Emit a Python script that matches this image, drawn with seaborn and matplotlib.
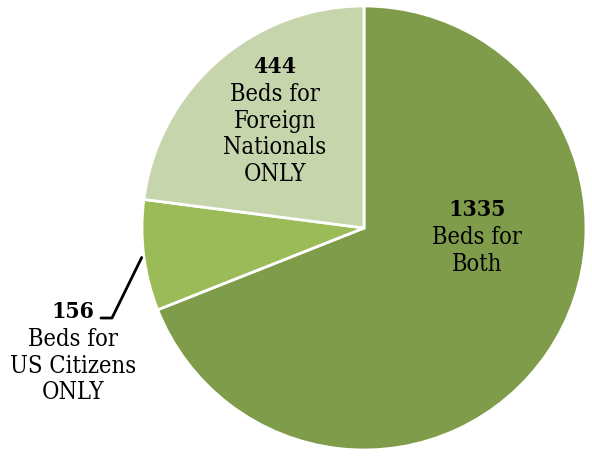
import numpy as np
import seaborn as sns
import matplotlib.pyplot as plt

# data
counts = [1335, 156, 444]
descriptions = ['Beds for\nBoth', 'Beds for\nUS Citizens\nONLY', 'Beds for\nForeign\nNationals\nONLY']
colors = ['#7F9C4A', '#9BBB59', '#C6D5AC']

sns.set_style('white')
plt.rcParams['font.family'] = ['DejaVu Serif']
plt.rcParams['font.stretch'] = 'condensed'

fig = plt.figure(figsize=(5.92, 4.57), dpi=100)
ax = fig.add_axes([0, 0, 1, 1])

cx, cy, r = 364, 229, 222
wedges, _ = ax.pie(counts, colors=colors, startangle=90, counterclock=False,
                   center=(cx, cy), radius=r, frame=True,
                   wedgeprops=dict(edgecolor='white', linewidth=2))
ax.set_xlim(0, 592)
ax.set_ylim(0, 457)
ax.set_aspect('equal')
ax.axis('off')

# label positions (centre of the bold number line), in pixels from top-left
label_pos = [(477, 210), (73, 312), (275, 67)]
fs = 17
for n, desc, (lx, ly) in zip(counts, descriptions, label_pos):
    ax.text(lx, 457 - ly, str(n), ha='center', va='center', fontsize=fs - 0.5,
            fontweight='bold', color='black')
    ax.text(lx, 457 - ly - 16, desc, ha='center', va='top', fontsize=fs,
            linespacing=1.2, color='black')

# leader line for the small slice
w = wedges[1]
mid = np.deg2rad((w.theta1 + w.theta2) / 2)
ax0, ay0 = cx + r * np.cos(mid), cy + r * np.sin(mid)
ax.plot([ax0 - 2, 112, 101], [ay0 - 2, 457 - 318, 457 - 318], color='black', lw=2)

fig.savefig('out.png', dpi=100)
